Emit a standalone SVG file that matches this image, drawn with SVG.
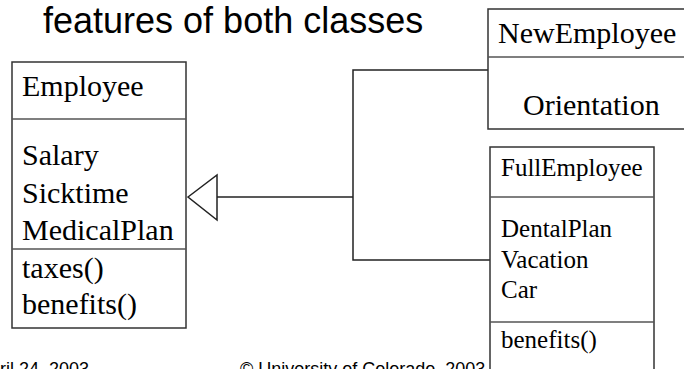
<svg xmlns="http://www.w3.org/2000/svg" width="684" height="369" viewBox="0 0 684 369">
<style>
.box{fill:#fff;stroke:#333;stroke-width:1.5}
.div{stroke:#555;stroke-width:1.5}
.t30{font-family:"Liberation Serif","Times New Roman",serif;font-size:30px;fill:#000}
.t25{font-family:"Liberation Serif","Times New Roman",serif;font-size:25px;fill:#000}
.sans{font-family:"Liberation Sans",Arial,sans-serif;fill:#000}
.conn{fill:none;stroke:#222;stroke-width:1.5}
</style>
<rect width="684" height="369" fill="#fff"/>
<text class="sans" x="43" y="33" font-size="36">features of both classes</text>
<g id="connectors">
<polyline class="conn" points="217,197 353,197"/>
<polyline class="conn" points="488,70 353,70 353,260 490,260"/>
<polygon points="188,197 217,175 217,220" fill="#fff" stroke="#222" stroke-width="1.5"/>
</g>
<g id="Employee">
<rect class="box" x="12" y="62" width="174" height="266"/>
<line class="div" x1="12" y1="119" x2="186" y2="119"/>
<line class="div" x1="12" y1="249" x2="186" y2="249"/>
<text class="t30" x="22" y="96">Employee</text>
<text class="t30" x="22" y="165">Salary</text>
<text class="t30" x="22" y="203">Sicktime</text>
<text class="t30" x="22" y="240">MedicalPlan</text>
<text class="t30" x="22" y="278">taxes()</text>
<text class="t30" x="22" y="314">benefits()</text>
</g>
<g id="NewEmployee">
<rect class="box" x="488" y="9" width="210" height="120"/>
<line class="div" x1="488" y1="57" x2="698" y2="57"/>
<text class="t30" x="498" y="43">NewEmployee</text>
<text class="t30" x="523" y="115">Orientation</text>
</g>
<g id="FullEmployee">
<rect class="box" x="490" y="147" width="164" height="240"/>
<line class="div" x1="490" y1="197" x2="654" y2="197"/>
<line class="div" x1="490" y1="322" x2="654" y2="322"/>
<text class="t25" x="501" y="176">FullEmployee</text>
<text class="t25" x="501" y="237">DentalPlan</text>
<text class="t25" x="501" y="268">Vacation</text>
<text class="t25" x="501" y="298">Car</text>
<text class="t25" x="501" y="348">benefits()</text>
</g>
<text class="sans" x="0" y="375" font-size="18">ril 24, 2003</text>
<text class="sans" x="240" y="375" font-size="18">© University of Colorado, 2003</text>
</svg>
